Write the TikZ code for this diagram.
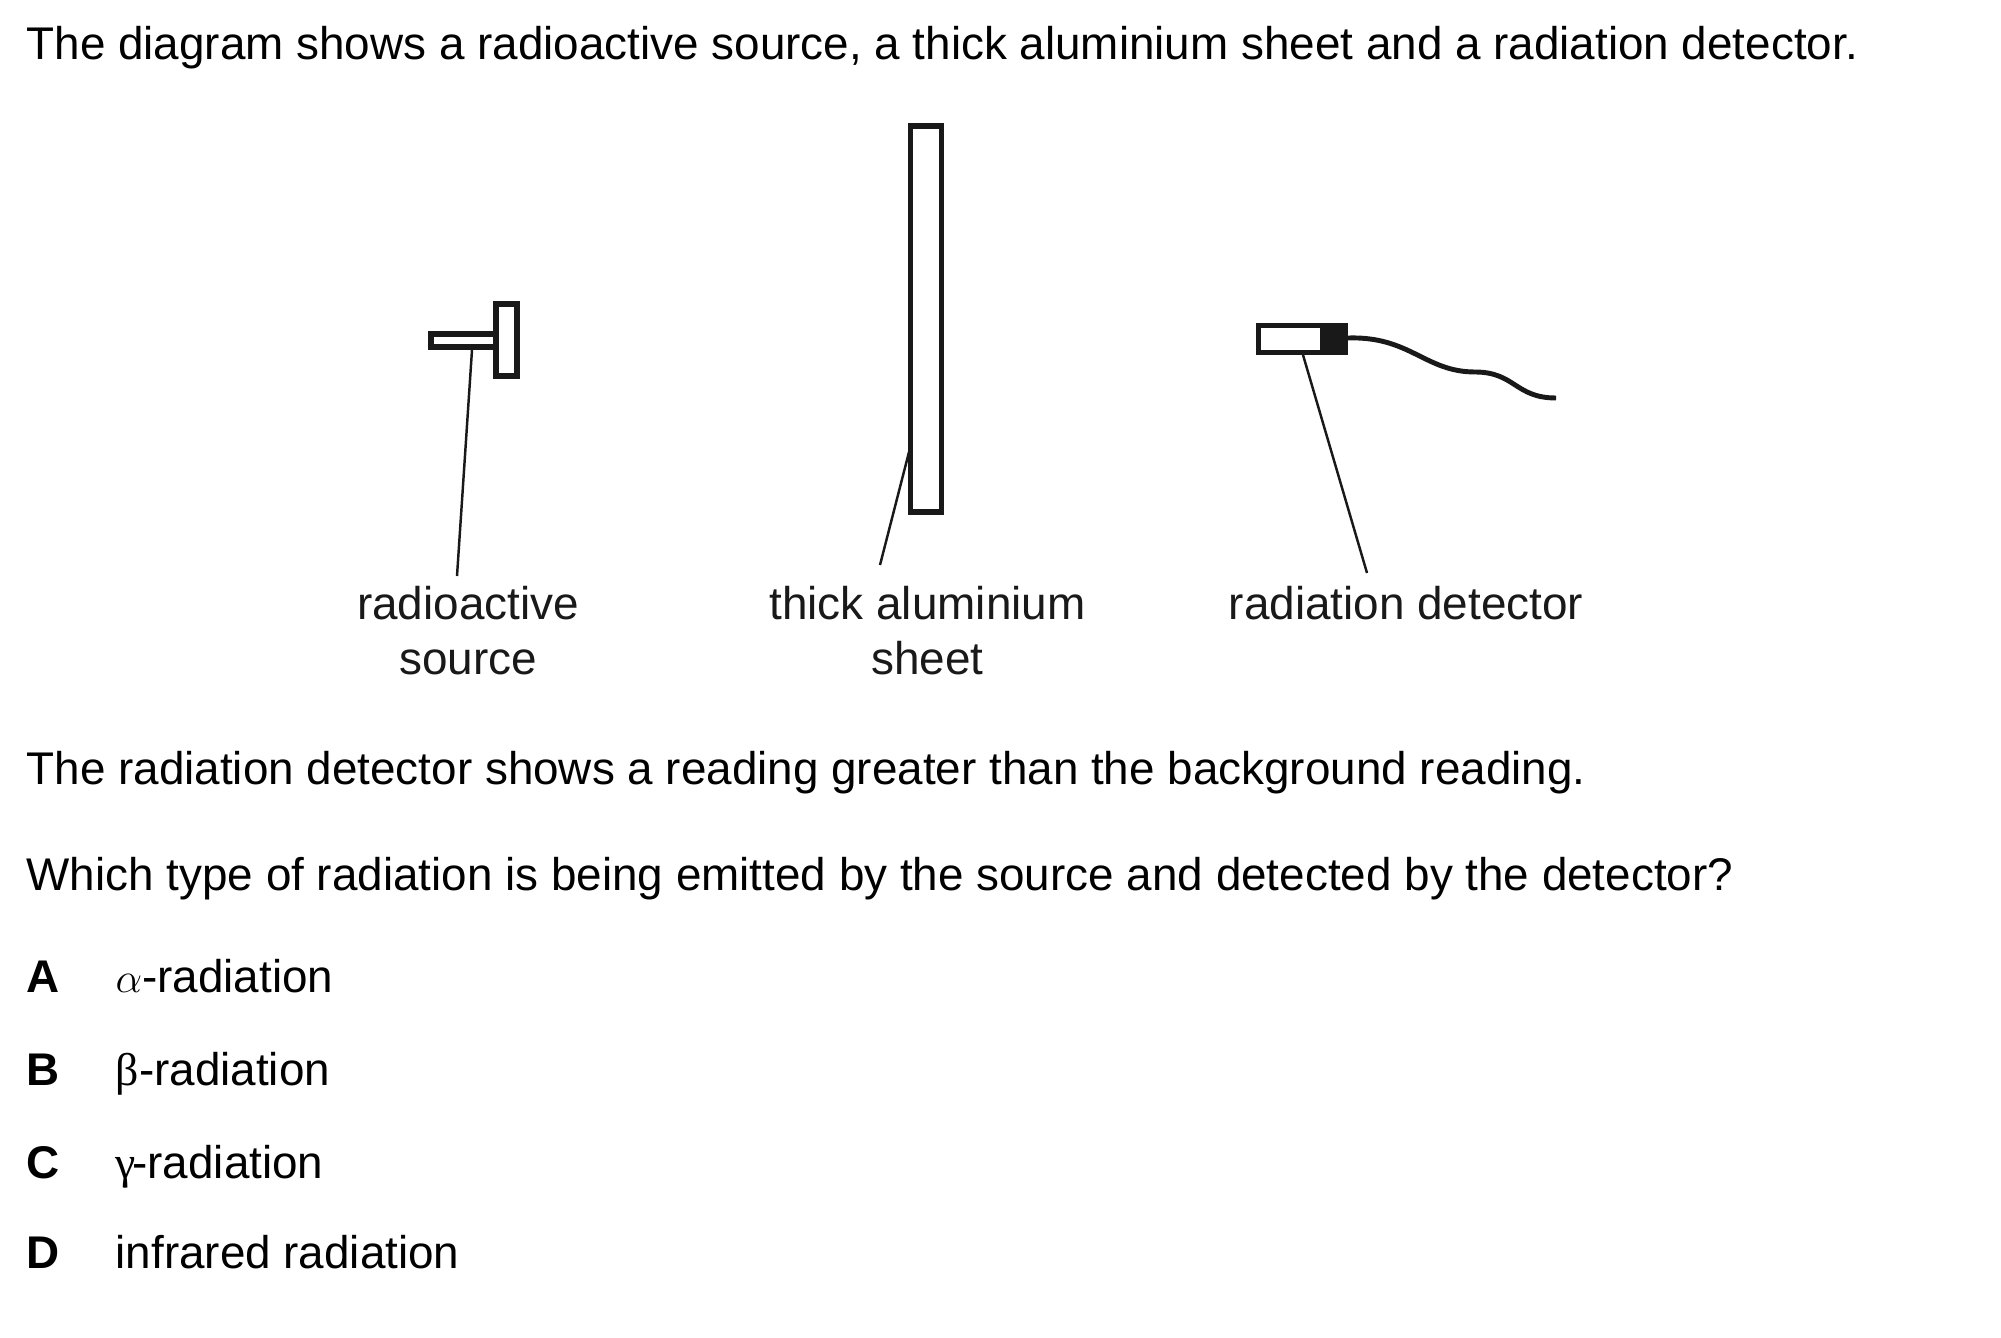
\documentclass[tikz,border=0pt]{standalone}
\usepackage{fontspec}
\setmainfont{Liberation Sans}
\newfontfamily\greekfont{Liberation Serif}
\tikzset{
	x=0.01cm, y=-0.01cm,
	txt/.style={anchor=base west, inner sep=0pt, font=\fontsize{13.03}{15.6}\selectfont, text=black},
	lbl/.style={anchor=base, inner sep=0pt, align=center, font=\fontsize{13.05}{15.6}\selectfont, text=black!90},
	opt/.style={txt, font=\fontsize{13.03}{15.6}\selectfont\bfseries},
	part/.style={line width=1.55pt, color=black!90, fill=white},
	leader/.style={line width=0.7pt, color=black!90}
}
\begin{document}
\begin{tikzpicture}
			%%%%% START %%%%%
			
			\useasboundingbox (0, 0) rectangle (2001, 1337);
			
			\node[txt] (intro) at (26, 60) {The diagram shows a radioactive source, a thick aluminium sheet and a radiation detector.};
			
			\draw[part] (431, 334) rectangle (496, 347);
			\draw[part] (496, 304) rectangle (517, 376);
			\coordinate (sourceend) at (472, 350);
			\node[lbl] (sourcelabel) at (468, 674) {radioactive\\source};
			\coordinate (sourcestart) at (457, 576);
			\draw[leader] (sourcestart) -- (sourceend);
			
			\draw[part] (910.7, 126) rectangle (941.3, 512);
			\coordinate (sheetend) at (909, 452);
			\node[lbl] (sheetlabel) at (927.5, 674) {thick aluminium\\sheet};
			\coordinate (sheetstart) at (880, 565);
			\draw[leader] (sheetstart) -- (sheetend);
			
			\draw[part] (1258.5, 325.5) rectangle (1345.5, 352.5);
			\draw[fill=black!90, draw=none] (1320, 323) rectangle (1348, 355);
			\draw[line width=1.4pt, color=black!90] (1348, 338) .. controls (1410, 336) and (1425, 372) .. (1475, 372) .. controls (1515, 372) and (1515, 398) .. (1556, 398);
			\coordinate (detectorend) at (1303, 355);
			\node[lbl] (detectorlabel) at (1406, 619) {radiation detector};
			\coordinate (detectorstart) at (1367, 573);
			\draw[leader] (detectorstart) -- (detectorend);
			
			\node[txt] (reading) at (26, 784) {The radiation detector shows a reading greater than the background reading.};
			\node[txt] (question) at (26, 890) {Which type of radiation is being emitted by the source and detected by the detector?};
			
			\node[opt] (a) at (26, 992) {A};
			\node[txt] (atext) at (115, 992) {$\alpha$-radiation};
			\node[opt] (b) at (26, 1085) {B};
			\node[txt] (btext) at (115, 1085) {{\greekfont β}-radiation};
			\node[opt] (c) at (26, 1178) {C};
			\node[txt] (ctext) at (115, 1178) {{\greekfont γ}\kern-1pt-radiation};
			\node[opt] (d) at (26, 1268) {D};
			\node[txt] (dtext) at (115, 1268) {infrared radiation};
			
			%%%%% END %%%%%
\end{tikzpicture}
\end{document}
